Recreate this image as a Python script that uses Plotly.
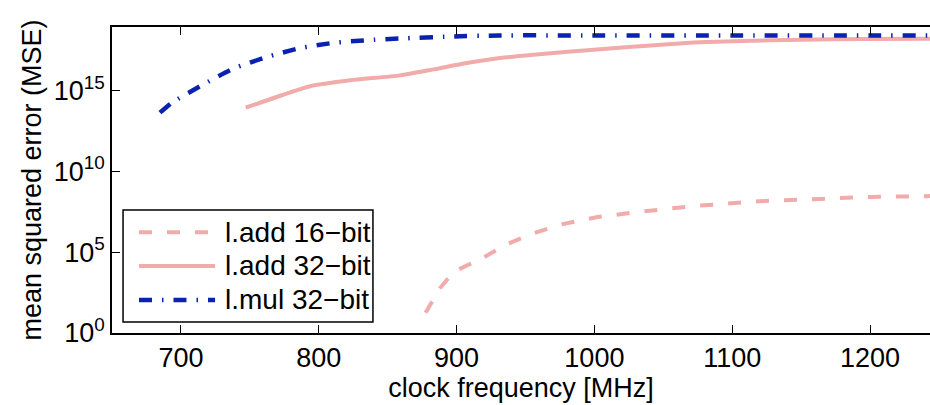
import plotly.graph_objects as go

# Clock frequency (MHz) and resulting mean squared error for each operator
mul32_freq = [684.8, 693.3, 713.9, 738.0, 762.3, 786.4, 810.6, 834.8, 859.0, 895.3,
              931.6, 1000.0, 1100.0, 1200.0, 1250.0]
mul32_mse = [4.2e13, 1.7e14, 1.8e15, 2.2e16, 1.15e17, 4.1e17, 8.7e17, 1.26e18, 1.62e18,
             2.14e18, 2.5e18, 2.5e18, 2.5e18, 2.5e18, 2.5e18]

add32_freq = [747.0, 769.5, 793.7, 822.7, 859.0, 883.2, 907.4, 931.6, 955.7, 1004.1,
              1076.7, 1149.3, 1200.0, 1250.0]
add32_mse = [8.5e13, 3.9e14, 1.8e15, 4.2e15, 8.5e15, 2.0e16, 4.9e16, 1.0e17, 1.6e17,
             3.5e17, 9.5e17, 1.35e18, 1.5e18, 1.6e18]

add16_freq = [877.5, 887.9, 898.0, 918.4, 936.3, 956.6, 977.0, 1002.4, 1038.0, 1073.6,
              1119.4, 1162.6, 1200.8, 1241.5, 1250.0]
add16_mse = [18.0, 5.8e2, 6.2e3, 4.1e4, 3.1e5, 1.55e6, 5.4e6, 1.5e7, 3.5e7, 7.2e7,
             1.4e8, 2.0e8, 2.6e8, 2.9e8, 2.95e8]

y_tick_vals = [1, 1e5, 1e10, 1e15]
y_tick_text = ["10<sup>0</sup>", "10<sup>5</sup>", "10<sup>10</sup>", "10<sup>15</sup>"]
x_tick_vals = [700, 800, 900, 1000, 1100, 1200]

series_names = ["l.add 16\u2212bit", "l.add 32\u2212bit", "l.mul 32\u2212bit"]

PINK = "rgb(241,171,171)"
BLUE = "rgb(10,34,176)"
DASH_ADD16 = "13px,15px"
DASH_MUL32 = "13px,10px,1.5px,10px"
FONT = "Liberation Sans, Arial, Helvetica, sans-serif"

fig = go.Figure()
fig.add_trace(go.Scatter(x=add16_freq, y=add16_mse, mode="lines", name=series_names[0],
                         line=dict(color=PINK, width=4, dash=DASH_ADD16)))
fig.add_trace(go.Scatter(x=add32_freq, y=add32_mse, mode="lines", name=series_names[1],
                         line=dict(color=PINK, width=4, shape="spline", smoothing=0.6)))
fig.add_trace(go.Scatter(x=mul32_freq, y=mul32_mse, mode="lines", name=series_names[2],
                         line=dict(color=BLUE, width=4.5, dash=DASH_MUL32,
                                   shape="spline", smoothing=0.6)))

# Legend box drawn by hand so the line samples are long
box = dict(x0=0.0135, x1=0.319, y0=0.036, y1=0.402)
fig.add_shape(type="rect", xref="paper", yref="paper", **box,
              line=dict(color="black", width=1.5), fillcolor="white", layer="above")
row_y = [0.329, 0.219, 0.108]
styles = [dict(color=PINK, width=4, dash=DASH_ADD16),
          dict(color=PINK, width=4),
          dict(color=BLUE, width=4.5, dash=DASH_MUL32)]
for yy, st, name in zip(row_y, styles, series_names):
    fig.add_shape(type="line", xref="paper", yref="paper", x0=0.033, x1=0.126,
                  y0=yy, y1=yy, line=st, layer="above")
    fig.add_annotation(xref="paper", yref="paper", x=0.1357, y=yy, text=name,
                       showarrow=False, xanchor="left", yanchor="middle",
                       font=dict(size=28, color="black", family=FONT))

fig.update_layout(
    width=930, height=405,
    margin=dict(l=112, r=0, t=27, b=72),
    paper_bgcolor="white", plot_bgcolor="white",
    showlegend=False,
    font=dict(family=FONT, size=27, color="black"),
    xaxis=dict(range=[650, 1243.5], tickvals=x_tick_vals, ticks="inside", ticklen=8,
               tickwidth=1, tickcolor="black", showline=True, linecolor="black",
               linewidth=1.5, mirror="ticks", showgrid=False, zeroline=False,
               title=dict(text="clock frequency [MHz]", standoff=0,
                          font=dict(size=27, family=FONT)),
               tickfont=dict(size=27)),
    yaxis=dict(type="log", range=[0, 18.92], tickvals=y_tick_vals, ticktext=y_tick_text,
               ticks="inside", ticklen=8, tickwidth=1, tickcolor="black",
               showline=True, linecolor="black", linewidth=1.5, showgrid=False,
               zeroline=False,
               title=dict(text="mean squared error (MSE)", standoff=4,
                          font=dict(size=27, family=FONT)),
               tickfont=dict(size=27)),
)

fig.write_html("out.html")
